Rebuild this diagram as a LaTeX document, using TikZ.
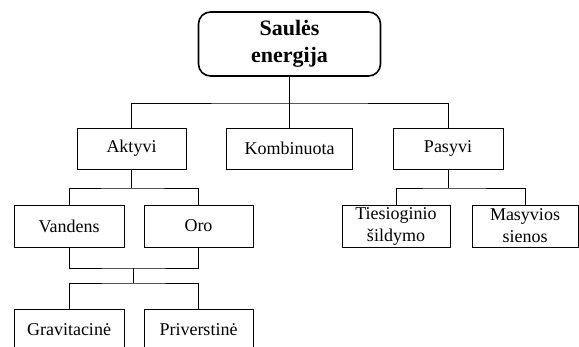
\documentclass[tikz,border=0pt]{standalone}
\usepackage{fontspec}
\setmainfont{Liberation Serif}
\usepackage{tikz}
\tikzset{%
  box/.style={draw, line width=0.8pt, minimum height=41pt, inner sep=1pt,
    align=center, font=\fontsize{18}{22}\selectfont},
  topbox/.style={draw, line width=1.6pt, rounded corners=12pt, minimum width=182pt,
    minimum height=64pt, align=center, font=\fontsize{22}{27}\selectfont\bfseries},
  tree/.style={line width=0.8pt}
}

\begin{document}
\begin{tikzpicture}[x=1pt,y=-1pt]
\useasboundingbox (0,0) rectangle (579,347);
\clip (0,0) rectangle (579,347);
\node[topbox] (sun) at (289.5,44) {Saulės\\energija};
\node[box, minimum width=109pt] (akt) at (131.5,148.5) {Aktyvi};
\node[box, minimum width=126pt] (komb) at (289.5,148.5) {Kombinuota};
\node[box, minimum width=110pt] (pas) at (448,148.5) {Pasyvi};
\node[box, minimum width=110pt, minimum height=42pt] (van) at (69,226) {Vandens};
\node[box, minimum width=109pt, minimum height=42pt] (oro) at (198.5,226) {Oro};
\node[box, minimum width=108pt, minimum height=42pt] (ties) at (396,226) {Tiesioginio\\šildymo};
\node[box, minimum width=106pt, minimum height=42pt] (mas) at (525,226) {Masyvios\\sienos};
\node[box, minimum width=110pt] (grav) at (69,329.5) {Gravitacinė};
\node[box, minimum width=109pt] (priv) at (198.5,329.5) {Priverstinė};
% junctions
\coordinate (j1) at (289.5,103);
\coordinate (j2) at (131.5,188);
\coordinate (j3) at (133.5,268);
\coordinate (j4) at (133.5,283);
\coordinate (j5) at (448,188);
\draw[tree] (sun.south) -- (komb.north);
\draw[tree] (akt.north) |- (j1) -| (pas.north);
\draw[tree] (akt.south) -- (j2);
\draw[tree] (van.north) |- (j2) -| (oro.north);
\draw[tree] (van.south) |- (j3) -| (oro.south);
\draw[tree] (j3) -- (j4);
\draw[tree] (grav.north) |- (j4) -| (priv.north);
\draw[tree] (pas.south) -- (j5);
\draw[tree] (ties.north) |- (j5) -| (mas.north);
\end{tikzpicture}
\end{document}
